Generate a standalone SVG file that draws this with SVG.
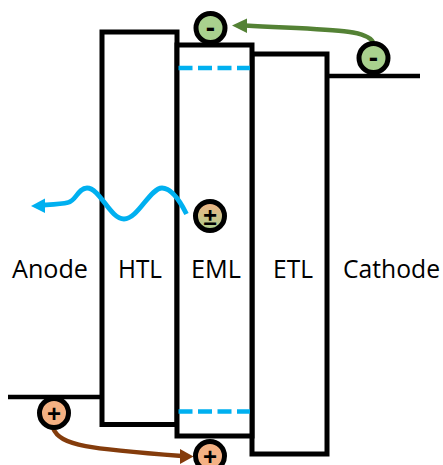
<svg xmlns="http://www.w3.org/2000/svg" width="443" height="465" viewBox="0 0 443 465">
<style>
.box{fill:#fff;stroke:#000;stroke-width:5}
.line{fill:none;stroke:#000;stroke-width:4.500}
.dash{fill:none;stroke:#00B0F0;stroke-width:4.500;stroke-dasharray:14 5.500}
.lbl{font-family:"Open Sans","Liberation Sans",sans-serif;font-size:25.500px;fill:#000}
.sign{font-family:"Liberation Sans",sans-serif;font-weight:bold;fill:#000;text-anchor:middle}
.e{fill:#A9D18E;stroke:#000;stroke-width:5}
.h{fill:#F4B183;stroke:#000;stroke-width:5}
.m{fill:url(#mix);stroke:#000;stroke-width:5}
</style>
<defs>
<linearGradient id="mix" x1="0" y1="0" x2="0" y2="1"><stop offset="0" stop-color="#F4B183"/><stop offset="1" stop-color="#A9D18E"/></linearGradient>
</defs>
<g id="anode-level"><path class="line" d="M8 397H102"/></g>
<g id="cathode-level"><path class="line" d="M327 76H420"/></g>
<g id="HTL"><rect class="box" x="102" y="32" width="75" height="392.500"/><text class="lbl" x="118" y="277.500" textLength="44" lengthAdjust="spacingAndGlyphs">HTL</text></g>
<g id="ETL"><rect class="box" x="252" y="54" width="75" height="400"/><text class="lbl" x="273" y="277.500" textLength="40" lengthAdjust="spacingAndGlyphs">ETL</text></g>
<g id="EML"><rect class="box" x="177" y="45" width="75" height="391"/><path class="dash" d="M178.500 68H250"/><path class="dash" d="M178.500 411.500H250"/><text class="lbl" x="191" y="277.500" textLength="50" lengthAdjust="spacingAndGlyphs">EML</text></g>
<g id="Anode"><text class="lbl" x="12" y="277.500" textLength="76" lengthAdjust="spacingAndGlyphs">Anode</text></g>
<g id="Cathode"><text class="lbl" x="343" y="277.500" textLength="97" lengthAdjust="spacingAndGlyphs">Cathode</text></g>
<g id="connectors">
<path d="M373 42C366 29 330 30 245 25.500" fill="none" stroke="#548235" stroke-width="4.500"/>
<path d="M232 25.500L247 18.500V33Z" fill="#548235"/>
<path d="M53 428C60 446 90 449 182 456" fill="none" stroke="#843C0C" stroke-width="4.500"/>
<path d="M193.500 456.500L180 449V464Z" fill="#843C0C"/>
<path d="M186.500 214C178 197 170 188 162 188C150 188 138 219 124 219C110 219 100 188 87 188C78 188 76 201 68 202.500C62 204 52 204.500 44 205" fill="none" stroke="#00B0F0" stroke-width="4.800"/>
<path d="M31 206L45 198.500V213Z" fill="#00B0F0"/>
</g>
<g id="e-top"><circle class="e" cx="210.500" cy="28" r="14.500"/><text class="sign" x="210.500" y="37" font-size="28">-</text></g>
<g id="e-cathode"><circle class="e" cx="373.500" cy="58" r="14.500"/><text class="sign" x="373.500" y="67" font-size="28">-</text></g>
<g id="h-anode"><circle class="h" cx="54" cy="413" r="14.500"/><text class="sign" x="54" y="421.500" font-size="24">+</text></g>
<g id="h-bottom"><circle class="h" cx="210" cy="456" r="14.500"/><text class="sign" x="210" y="464.500" font-size="24">+</text></g>
<g id="exciton"><circle class="m" cx="210" cy="216" r="14.500"/><text class="sign" x="210" y="224.500" font-size="24">±</text></g>
</svg>
